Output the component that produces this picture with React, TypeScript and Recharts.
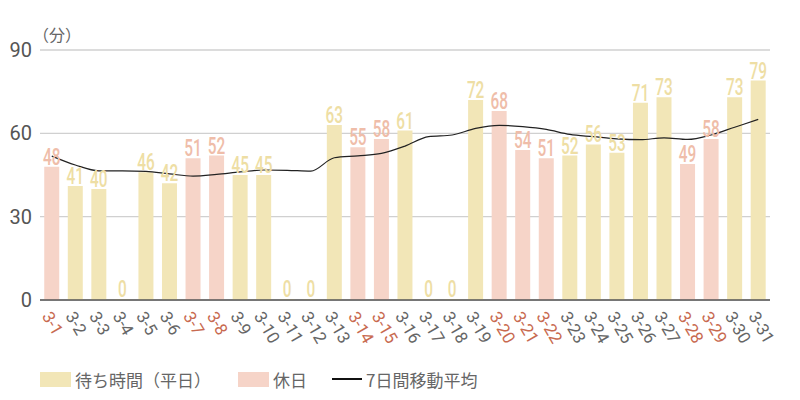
import {
  Bar,
  CartesianGrid,
  Cell,
  ComposedChart,
  LabelList,
  Legend,
  Line,
  XAxis,
  YAxis,
} from "recharts";

const days = [
  "3-1", "3-2", "3-3", "3-4", "3-5", "3-6", "3-7", "3-8", "3-9", "3-10",
  "3-11", "3-12", "3-13", "3-14", "3-15", "3-16", "3-17", "3-18", "3-19", "3-20",
  "3-21", "3-22", "3-23", "3-24", "3-25", "3-26", "3-27", "3-28", "3-29", "3-30", "3-31",
];

const waitMinutes = [
  48, 41, 40, 0, 46, 42, 51, 52, 45, 45,
  0, 0, 63, 55, 58, 61, 0, 0, 72, 68,
  54, 51, 52, 56, 53, 71, 73, 49, 58, 73, 79,
];

const holidayDays = ["3-1", "3-7", "3-8", "3-14", "3-15", "3-20", "3-21", "3-22", "3-28", "3-29"];

const movingAvg = [
  51.8, 48.6, 46.5, 46.5, 46.3, 45.4, 44.6, 45.2, 46.1, 46.8,
  46.7, 46.4, 51.2, 51.9, 52.8, 55.4, 58.8, 59.4, 61.8, 62.9,
  62.4, 61.4, 59.6, 58.8, 58.0, 57.7, 58.4, 57.8, 59.4, 62.2, 65.0,
];

const yTicks = [0, 30, 60, 90];

const WEEKDAY = "#F2E6B7";
const HOLIDAY = "#F6D4C8";
const WEEKDAY_LABEL = "#EEDEA4";
const HOLIDAY_LABEL = "#EFBDA9";
const GRAY = "#666";
const RED = "#C86A50";

const rows = days.map((d, i) => ({
  day: d,
  wait: waitMinutes[i],
  ma: movingAvg[i],
  holiday: holidayDays.includes(d),
}));

const jp = "'Noto Sans CJK JP', 'Noto Sans', sans-serif";

function DayTick(props: any) {
  const { x, y, payload } = props;
  const hol = holidayDays.includes(payload.value);
  const tx = x - 5;
  const ty = y + 5;
  return (
    <text
      x={tx}
      y={ty}
      transform={`rotate(60 ${tx} ${ty})`}
      textAnchor="start"
      dominantBaseline="central"
      fontSize={17}
      fontFamily="Roboto, sans-serif"
      fill={hol ? RED : GRAY}
    >
      {payload.value}
    </text>
  );
}

// bar labels use a squeezed Roboto, the original looks condensed
function WaitLabel(props: any) {
  const { x, y, width, value, index } = props;
  const hol = rows[index].holiday;
  return (
    <text
      x={0}
      y={0}
      transform={`translate(${x + width / 2} ${y - 2}) scale(0.64 1)`}
      textAnchor="middle"
      fontSize={24}
      fontWeight={500}
      fontFamily="Roboto, sans-serif"
      fill={hol ? HOLIDAY_LABEL : WEEKDAY_LABEL}
    >
      {value}
    </text>
  );
}

function ChartLegend() {
  const item = { display: "flex", alignItems: "center", gap: 4 } as const;
  return (
    <div
      style={{
        display: "flex",
        alignItems: "center",
        marginLeft: 40,
        fontFamily: jp,
        fontSize: 17,
        color: GRAY,
        height: 42,
      }}
    >
      <div style={item}>
        <span style={{ width: 31, height: 15, background: WEEKDAY, display: "inline-block" }} />
        <span>待ち時間（平日）</span>
      </div>
      <div style={{ ...item, marginLeft: 27 }}>
        <span style={{ width: 31, height: 15, background: HOLIDAY, display: "inline-block" }} />
        <span>休日</span>
      </div>
      <div style={{ ...item, marginLeft: 25 }}>
        <span style={{ width: 30, height: 2, background: "#111", display: "inline-block" }} />
        <span>7日間移動平均</span>
      </div>
    </div>
  );
}

export default function App() {
  return (
    <div style={{ position: "absolute", left: 0, top: 0, width: 800, height: 400, background: "#fff" }}>
      <div
        style={{
          position: "absolute",
          left: 33,
          top: 22,
          fontFamily: jp,
          fontSize: 16,
          color: GRAY,
        }}
      >
        （分）
      </div>
      <ComposedChart
        width={800}
        height={400}
        data={rows}
        margin={{ top: 50, right: 30, bottom: 0, left: 0 }}
        barCategoryGap="18%"
      >
        <CartesianGrid vertical={false} stroke="#d0d0d0" strokeWidth={1.3} />
        <XAxis
          dataKey="day"
          interval={0}
          tickLine={false}
          axisLine={{ stroke: "#555", strokeWidth: 1.3 }}
          height={58}
          tick={<DayTick />}
        />
        <YAxis
          domain={[0, 90]}
          ticks={yTicks}
          width={40}
          tickLine={false}
          axisLine={false}
          tick={{ fontSize: 20, fill: "#555", fontFamily: "Roboto, sans-serif" }}
        />
        <Legend verticalAlign="bottom" height={42} content={<ChartLegend />} />
        <Bar dataKey="wait" isAnimationActive={false} minPointSize={1}>
          {rows.map((r) => (
            <Cell key={r.day} fill={r.holiday ? HOLIDAY : WEEKDAY} />
          ))}
          <LabelList dataKey="wait" content={<WaitLabel />} />
        </Bar>
        <Line
          dataKey="ma"
          type="monotone"
          stroke="#222"
          strokeWidth={1.2}
          dot={false}
          activeDot={false}
          isAnimationActive={false}
        />
      </ComposedChart>
    </div>
  );
}
